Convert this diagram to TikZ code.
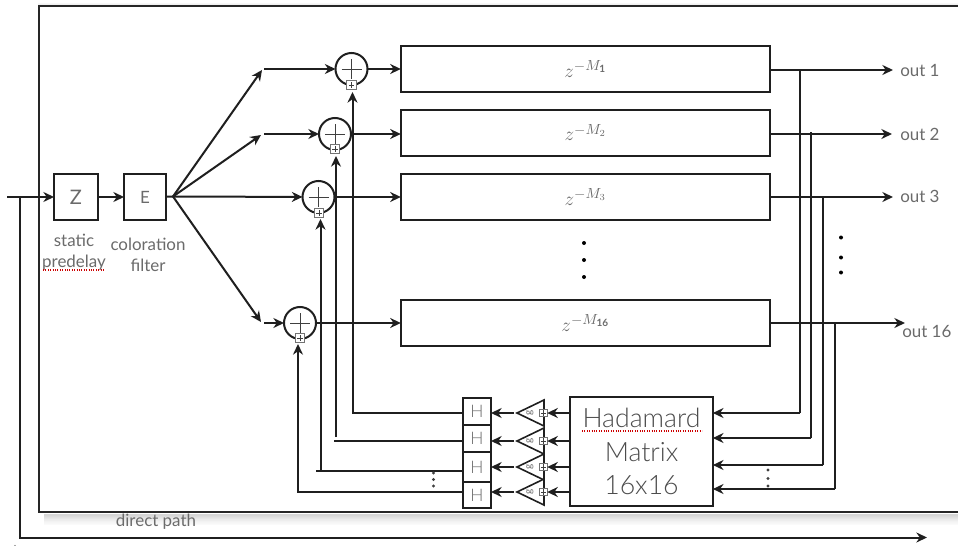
\documentclass[tikz,border=0pt]{standalone}
\usepackage{fontspec}
\setmainfont{Lato}
\newfontfamily\lightfont{Lato Light}
\usetikzlibrary{arrows.meta}
\definecolor{txt}{gray}{0.42}
\definecolor{txtl}{gray}{0.3}
\tikzset{
 x=0.75pt,y=-0.75pt,
 wire/.style={draw=black!88,line width=1.5pt},
 arrs/.style={wire,-{Stealth[length=8pt,width=7.5pt]}},
 boxn/.style={draw=black!88,line width=1.5pt,fill=white,inner sep=0pt,outer sep=0pt,minimum width=#1},
 delay/.style={boxn=277pt,minimum height=34.5pt,font=\fontsize{15}{16}\selectfont,text=txt},
 lab/.style={text=txt,font=\fontsize{12.7}{13}\selectfont,inner sep=0pt,align=center},
 sumc/.style={circle,draw=black!88,line width=1.5pt,fill=white,minimum size=24pt,inner sep=0pt,outer sep=0pt},
 hbox/.style={boxn=21pt,text=txt,font=\fontsize{13}{13}\selectfont\lightfont},
 tri/.style={draw=black!88,line width=1.2pt,fill=white},
 port/.style={draw=black!55,line width=0.7pt,fill=white,minimum size=#1,inner sep=0pt,outer sep=0pt},
 dotn/.style={circle,fill=black,minimum size=3pt,inner sep=0pt},
 dotm/.style={circle,fill=black!75,minimum size=2.4pt,inner sep=0pt},
 squig/.style={red!80!black,densely dotted,line width=0.8pt},
}
\newcommand{\sumsign}[1]{\draw[black!75,line width=0.7pt] ([xshift=-7.5pt]#1.center)--([xshift=7.5pt]#1.center) ([yshift=-7.5pt]#1.center)--([yshift=7.5pt]#1.center);}
\newcommand{\portplus}[1]{\draw[black!75,line width=0.45pt] ([xshift=-2pt]#1.center)--([xshift=2pt]#1.center) ([yshift=-2pt]#1.center)--([yshift=2pt]#1.center);}
\begin{document}
\begin{tikzpicture}
\useasboundingbox (0,0) rectangle (958,546);
% direct path frame
\coordinate (dpstart) at (19.5,197);
\coordinate (dpcorner) at (19.5,537.5);
\coordinate (dpend) at (927,537.5);
\draw[arrs] (dpstart) -- (dpcorner) -- (dpend);
% main panel shadow
\foreach \o/\a in {1/0.16,2/0.16,3/0.14,4/0.12,5/0.10,6/0.08,7/0.07,8/0.05,9/0.04,10/0.03,11/0.02}{
  \fill[black,opacity=\a] (44,512.5+\o) rectangle (958,513.5+\o);
}
\foreach \o/\a in {1/0.12,2/0.06,3/0.03}{
  \fill[black,opacity=\a] (38,5.5-\o) rectangle (958,6.5-\o);
}
\fill[white] (38.5,6) rectangle (958,512);
\draw[black!85,line width=1.5pt] (958,6) -- (38.5,6) -- (38.5,512) -- (958,512);
\node[lab] (direct) at (156,522) {direct path};
\fill[black!70] (15,545.5) circle (0.7);
% input
\node[boxn=33pt,minimum height=34.5pt] (Z) at (76,197) {\textcolor{txt}{\fontsize{15}{15}\selectfont Z}};
\node[boxn=31.5pt,minimum height=34.5pt] (E) at (145,197) {\textcolor{txt}{\fontsize{12.7}{13}\selectfont E}};
\coordinate (in) at (7,197);
\draw[arrs] (in) -- (Z);
\draw[arrs] (Z) -- (E);
\node[lab] (pre) at (74,252) {static\\[3pt]predelay};
\node[lab] (col) at (148,255) {coloration\\[3pt]filter};
\coordinate (sq1a) at (43,270); \coordinate (sq1b) at (105,270);
\draw[squig] (sq1a) -- (sq1b);
% delays
\node[delay] (D1) at (585.5,69) {$z^{-M_{\mathbf{1}}}$};
\node[delay] (D2) at (585.5,132.5) {$z^{-M_{2}}$};
\node[delay] (D3) at (585.5,197) {$z^{-M_{3}}$};
\node[delay] (D4) at (585.5,323) {$z^{-M_{\mathbf{16}}}$};
% sums
\node[sumc] (S1) at (351.5,69) {};
\node[sumc] (S2) at (335,134) {};
\node[sumc] (S3) at (318.5,197) {};
\node[sumc] (S4) at (300,323) {};
\foreach \s in {S1,S2,S3,S4}{\sumsign{\s}}
% branch points
\coordinate (fan) at (173,196.5);
\coordinate (b1) at (262,70);
\coordinate (b2) at (261,135);
\coordinate (b4) at (261,322);
\coordinate (c1) at (264,69);
\coordinate (c2) at (264,134);
\coordinate (c4) at (264,323);
\draw[wire] (E) -- (fan);
\draw[arrs] (fan) -- (b1);
\draw[arrs] (fan) -- (b2);
\draw[arrs] (fan) -- (b4);
\draw[arrs] (fan) -- (S3);
\draw[arrs] (c1) -- (S1);
\draw[arrs] (c2) -- (S2);
\draw[arrs] (c4) -- (S4);
\draw[arrs] (S1) -- (D1);
\draw[arrs] (S2) -- (S2 -| D2.west);
\draw[arrs] (S3) -- (D3);
\draw[arrs] (S4) -- (D4);
\node[dotn] (vA) at (584,243) {}; \node[dotn] (vB) at (584,260) {}; \node[dotn] (vC) at (584,277) {};
% hadamard
\node[boxn=107pt,minimum height=82pt,text=txtl,align=center,font=\fontsize{20}{25}\selectfont\lightfont] (HM) at (641.5,451.5) {Hadamard\\Matrix\\16x16};
\coordinate (sq2a) at (582,431); \coordinate (sq2b) at (702,431);
\draw[squig] (sq2a) -- (sq2b);
% H row
\foreach \i/\cy/\h/\y in {1/411.5/20.2/413,2/438.5/20.2/441,3/467/22.5/467,4/495/19.5/492}{
  \node[hbox,minimum height=\h pt] (H\i) at (477,\cy) {H};
  \coordinate (Pc\i) at (543.5,\y);
  \path (Pc\i) ++(0.5,-13) coordinate (Ta\i) ++(0,26) coordinate (Tb\i);
  \coordinate (Tc\i) at (517,\y);
  \draw[tri] (Ta\i) -- (Tc\i) -- (Tb\i) -- cycle;
  \node[port=5.5pt] (P\i) at (Pc\i) {};
  \portplus{P\i}
  \node[text=txt,font=\fontsize{7.5}{7.5}\selectfont,rotate=90,inner sep=0pt] (G\i) at (530,\y) {g};
  \draw[arrs] (HM.west |- P\i) -- (P\i.east);
  \coordinate (Tt\i) at (514,\y);
  \draw[arrs] (Tt\i) -- (H\i.east |- Tt\i);
}
% feedback
\node[port=7pt] (Q1) at (351.5,85) {};
\node[port=7pt] (Q2) at (335,149) {};
\node[port=7pt] (Q3) at (319,213) {};
\node[port=7pt] (Q4) at (300,338) {};
\foreach \i in {1,2,3,4}{\portplus{Q\i}}
\coordinate (F1) at (463,413); \coordinate (V1a) at (352.5,413); \coordinate (V1b) at (352.5,92);
\coordinate (F2) at (463,441); \coordinate (V2e) at (334,441); \coordinate (V2a) at (336,437); \coordinate (V2b) at (336,156);
\coordinate (F3) at (463,471); \coordinate (V3e) at (316,471); \coordinate (V3a) at (320.5,471); \coordinate (V3b) at (320.5,219);
\coordinate (F4) at (463,492); \coordinate (V4a) at (298,492); \coordinate (V4b) at (298,344);
\draw[arrs] (F1) -- (V1a) -- (V1b);
\draw[wire] (F2) -- (V2e);
\draw[arrs] (V2a) -- (V2b);
\draw[wire] (F3) -- (V3e);
\draw[arrs] (V3a) -- (V3b);
\draw[arrs] (F4) -- (V4a) -- (V4b);
\node[dotm] (l1) at (433.5,473) {}; \node[dotm] (l2) at (433.5,479.5) {}; \node[dotm] (l3) at (433.5,486) {};
% outputs
\node[lab,anchor=west] (o1) at (900,70) {out 1};
\node[lab,anchor=west] (o2) at (900,134) {out 2};
\node[lab,anchor=west] (o3) at (900,196) {out 3};
\node[lab,anchor=west] (o4) at (902,331) {out 16};
\coordinate (e1) at (893,70);
\coordinate (e2) at (892,134);
\coordinate (e3) at (893,197);
\coordinate (e4) at (905,323);
\draw[arrs] (D1.east |- e1) -- (e1);
\draw[arrs] (D2.east |- e2) -- (e2);
\draw[arrs] (D3.east |- e3) -- (e3);
\draw[arrs] (D4.east |- e4) -- (e4);
\foreach \n/\x/\t/\b in {a/800/70/413,b/811/132/438,c/823/197/465,d/834.5/323/489}{
  \coordinate (t\n) at (\x,\t);
  \coordinate (u\n) at (\x,\b);
  \draw[wire] (t\n) -- (u\n);
  \draw[arrs] (u\n) -- (HM.east |- u\n);
}
\node[dotn] (r1) at (841,237.5) {}; \node[dotn] (r2) at (841,257.5) {}; \node[dotn] (r3) at (841,272.5) {};
\node[dotm] (m1) at (768,470) {}; \node[dotm] (m2) at (768,478.5) {}; \node[dotm] (m3) at (768,486) {};
\end{tikzpicture}
\end{document}
